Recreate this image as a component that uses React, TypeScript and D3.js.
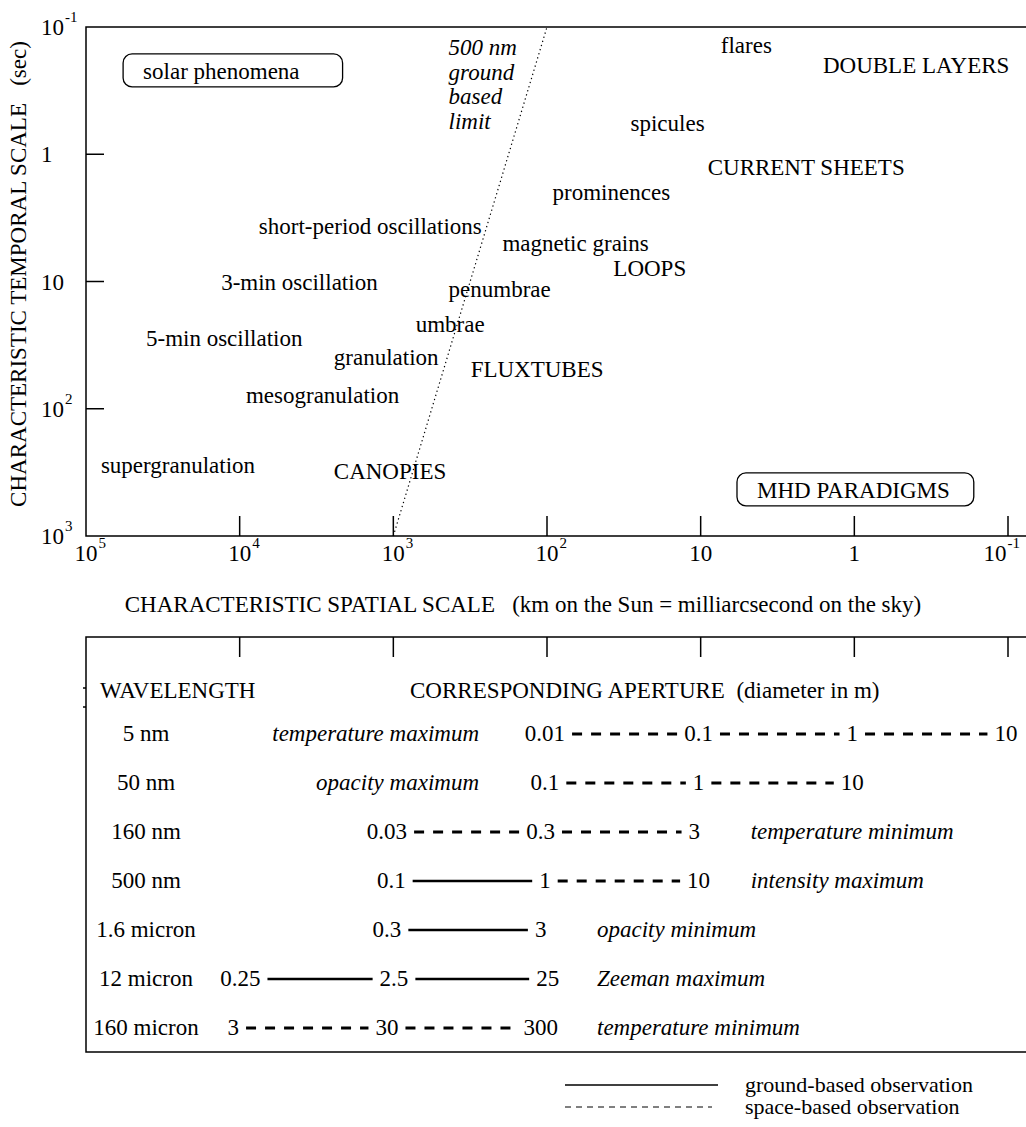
import { useEffect, useRef } from 'react';
import * as d3 from 'd3';

const W = 1026;
const H = 1127;
const FONT = '"Liberation Serif", "Times New Roman", serif';
const FS = 23;

// axes (spatial scale in km, temporal scale in s)
const spatialTicks = [1e5, 1e4, 1e3, 1e2, 10, 1, 0.1];
const temporalTicks = [0.1, 1, 10, 100, 1000];

// annotations: label, spatial scale (km), temporal scale (s) at the text's left baseline
const phenomenaLabels = [
  'flares', 'DOUBLE LAYERS', 'spicules', 'CURRENT SHEETS', 'prominences',
  'short-period oscillations', 'magnetic grains', 'LOOPS', '3-min oscillation',
  'penumbrae', 'umbrae', '5-min oscillation', 'granulation', 'FLUXTUBES',
  'mesogranulation', 'supergranulation', 'CANOPIES',
];
const phenomenaKm = [7.4, 1.6, 28.6, 9.0, 92, 7500, 195, 37, 13200, 437, 715, 40700, 2440, 314, 9100, 80000, 2440];
const phenomenaSec = [0.16, 0.23, 0.66, 1.46, 2.3, 4.2, 5.8, 9.1, 11.7, 13.2, 25, 32, 45, 56, 90, 320, 356];

// boxed headings
const boxLabels = ['solar phenomena', 'MHD PARADIGMS'];
const boxKm = [42500, 4.3];
const boxSec = [0.256, 502];

// 500 nm ground based diffraction limit
const limitKm = [1e3, 1e2];
const limitSec = [1e3, 0.1];
const limitText = ['500 nm', 'ground', 'based', 'limit'];
const limitTextKm = 437;
const limitTextSec = 0.166;

// lower panel: wavelength vs. corresponding aperture (m)
const wavelengths = ['5 nm', '50 nm', '160 nm', '500 nm', '1.6 micron', '12 micron', '160 micron'];
const wavelengthMeters = [5e-9, 5e-8, 1.6e-7, 5e-7, 1.6e-6, 1.2e-5, 1.6e-4];
const apertures = [
  [0.01, 0.1, 1, 10],
  [0.1, 1, 10],
  [0.03, 0.3, 3],
  [0.1, 1, 10],
  [0.3, 3],
  [0.25, 2.5, 25],
  [3, 30, 300],
];
const observation = [
  ['space', 'space', 'space'],
  ['space', 'space'],
  ['space', 'space'],
  ['ground', 'space'],
  ['ground'],
  ['ground', 'ground'],
  ['space', 'space'],
];
const features = [
  'temperature maximum', 'opacity maximum', 'temperature minimum', 'intensity maximum',
  'opacity minimum', 'Zeeman maximum', 'temperature minimum',
];

const legendLabels = ['ground-based observation', 'space-based observation'];

const RAD_TO_MAS = 206264.806 * 1000;

export default function App() {
  const ref = useRef<SVGSVGElement | null>(null);

  useEffect(() => {
    document.body.style.margin = '0';
    const el = ref.current;
    if (!el) return;
    const svg = d3.select(el);
    svg.selectAll('*').remove();

    const x = d3.scaleLog().domain([1e5, 0.1]).range([86, 1008]);
    const y = d3.scaleLog().domain([0.1, 1000]).range([27, 536]);
    const right = W;

    const g = svg.append('g').attr('font-family', FONT).attr('fill', '#000');
    const exp = (v: number) => Math.round(Math.log10(v));
    const bbox = (s: d3.Selection<SVGTextElement, unknown, null, undefined>) =>
      (s.node() as SVGTextElement).getBBox();

    // ---- upper panel frame
    g.append('path')
      .attr('d', `M${right},${y(0.1)}H${x(1e5)}V${y(1000)}H${right}`)
      .attr('fill', 'none').attr('stroke', '#000').attr('stroke-width', 1.5);

    g.selectAll('.xtick').data(spatialTicks.slice(1)).join('line')
      .attr('x1', (d) => x(d)).attr('x2', (d) => x(d))
      .attr('y1', y(1000)).attr('y2', y(1000) - 20)
      .attr('stroke', '#000').attr('stroke-width', 1.5);

    g.selectAll('.ytick').data(temporalTicks.slice(1, -1)).join('line')
      .attr('x1', x(1e5)).attr('x2', x(1e5) + 18)
      .attr('y1', (d) => y(d)).attr('y2', (d) => y(d))
      .attr('stroke', '#000').attr('stroke-width', 1.5);

    // tick labels: "10" with a superscript exponent
    const tickLabel = (v: number, cx: number, by: number, anchor: string) => {
      const e = exp(v);
      const lg = g.append('g');
      const t = lg.append('text').attr('x', cx).attr('y', by).attr('font-size', FS)
        .attr('text-anchor', anchor).text(e === 0 ? '1' : '10');
      if (e !== 0 && e !== 1) {
        const bb = bbox(t);
        lg.append('text').attr('x', bb.x + bb.width + 1).attr('y', by - 13)
          .attr('font-size', 15).text(String(e));
      }
      const full = (lg.node() as SVGGElement).getBBox();
      if (full.x + full.width > W - 6) {
        lg.attr('transform', `translate(${W - 6 - full.x - full.width},0)`);
      }
    };

    spatialTicks.forEach((v) => tickLabel(v, x(v), 561, 'middle'));
    temporalTicks.forEach((v) => tickLabel(v, 41, y(v) + 8, 'start'));

    g.append('text')
      .attr('x', 523).attr('y', 612).attr('font-size', FS).attr('text-anchor', 'middle')
      .attr('xml:space', 'preserve')
      .text('CHARACTERISTIC SPATIAL SCALE   (km on the Sun = milliarcsecond on the sky)');

    g.append('text')
      .attr('transform', `translate(26,274) rotate(-90)`)
      .attr('font-size', FS).attr('text-anchor', 'middle')
      .attr('xml:space', 'preserve')
      .text('CHARACTERISTIC TEMPORAL SCALE   (sec)');

    // ---- limit line
    const line = d3.line<number>().x((_, i) => x(limitKm[i])).y((_, i) => y(limitSec[i]));
    g.append('path').attr('d', line(limitKm))
      .attr('fill', 'none').attr('stroke', '#000').attr('stroke-width', 1.2)
      .attr('stroke-dasharray', '1.3 3');

    const lt = g.append('text').attr('font-size', FS).attr('font-style', 'italic');
    limitText.forEach((s, i) => {
      lt.append('tspan').attr('x', x(limitTextKm)).attr('y', y(limitTextSec) + i * 24.5).text(s);
    });

    // ---- annotations
    phenomenaLabels.forEach((s, i) => {
      g.append('text').attr('x', x(phenomenaKm[i])).attr('y', y(phenomenaSec[i]))
        .attr('font-size', FS).text(s);
    });

    const boxPadRight = [43, 24];
    boxLabels.forEach((s, i) => {
      const by = y(boxSec[i]);
      const rect = g.append('rect');
      const t = g.append('text').attr('x', x(boxKm[i])).attr('y', by)
        .attr('font-size', FS).text(s);
      const bb = bbox(t);
      rect
        .attr('x', bb.x - 20).attr('y', by - 25)
        .attr('width', bb.width + 20 + boxPadRight[i]).attr('height', 33)
        .attr('rx', 9).attr('fill', 'none').attr('stroke', '#000').attr('stroke-width', 1.3);
    });

    // ---- lower panel
    const top = 637;
    const bottom = 1052;
    g.append('path')
      .attr('d', `M${right},${top}H${x(1e5)}V${bottom}H${right}`)
      .attr('fill', 'none').attr('stroke', '#000').attr('stroke-width', 1.5);
    g.selectAll('.btick').data(spatialTicks.slice(1)).join('line')
      .attr('x1', (d) => x(d)).attr('x2', (d) => x(d))
      .attr('y1', top).attr('y2', top + 20)
      .attr('stroke', '#000').attr('stroke-width', 1.5);
    [688, 707].forEach((yy) => {
      g.append('line').attr('x1', x(1e5) - 3).attr('x2', x(1e5)).attr('y1', yy).attr('y2', yy)
        .attr('stroke', '#000').attr('stroke-width', 1.5);
    });

    g.append('text').attr('x', 100).attr('y', 698).attr('font-size', FS).text('WAVELENGTH');
    g.append('text').attr('x', 410).attr('y', 698).attr('font-size', FS)
      .attr('xml:space', 'preserve').text('CORRESPONDING APERTURE  (diameter in m)');

    const rowY = d3.scaleLinear().domain([0, wavelengths.length - 1]).range([741, 1035]);

    wavelengths.forEach((wl, i) => {
      const by = rowY(i);
      g.append('text').attr('x', 146).attr('y', by).attr('font-size', FS)
        .attr('text-anchor', 'middle').text(wl);

      const pos = apertures[i].map((d) => x((wavelengthMeters[i] / d) * RAD_TO_MAS));
      const boxes = apertures[i].map((d, j) =>
        bbox(g.append('text').attr('x', pos[j]).attr('y', by).attr('font-size', FS)
          .attr('text-anchor', 'middle').text(String(d))));

      observation[i].forEach((kind, j) => {
        const a = boxes[j].x + boxes[j].width + 7;
        const b = boxes[j + 1].x - 7;
        g.append('line').attr('x1', a).attr('x2', b).attr('y1', by - 7).attr('y2', by - 7)
          .attr('stroke', '#000').attr('stroke-width', kind === 'ground' ? 2.5 : 3)
          .attr('stroke-dasharray', kind === 'ground' ? null : '10 9');
      });

      // features sit left of the apertures when these start at the 100 km decade
      const leftSide = pos[0] > x(300);
      const last = pos[pos.length - 1];
      const decade = 10 ** Math.round(Math.log10(x.invert(last)));
      g.append('text')
        .attr('x', leftSide ? x(100) - 68 : x(decade) + 50)
        .attr('y', by).attr('font-size', FS).attr('font-style', 'italic')
        .attr('text-anchor', leftSide ? 'end' : 'start').text(features[i]);
    });

    // ---- legend
    const legendDash = [null, '6 5'];
    const legendWidth = [1.5, 1];
    const legendLen = [153, 147];
    legendLabels.forEach((label, i) => {
      const ly = 1085 + i * 22;
      g.append('line').attr('x1', 565).attr('x2', 565 + legendLen[i]).attr('y1', ly).attr('y2', ly)
        .attr('stroke', '#000').attr('stroke-width', legendWidth[i])
        .attr('stroke-dasharray', legendDash[i]);
      g.append('text').attr('x', 745).attr('y', ly + 7).attr('font-size', 22).text(label);
    });
  }, []);

  return <svg ref={ref} width={W} height={H} style={{ display: 'block', background: '#fff' }} />;
}
